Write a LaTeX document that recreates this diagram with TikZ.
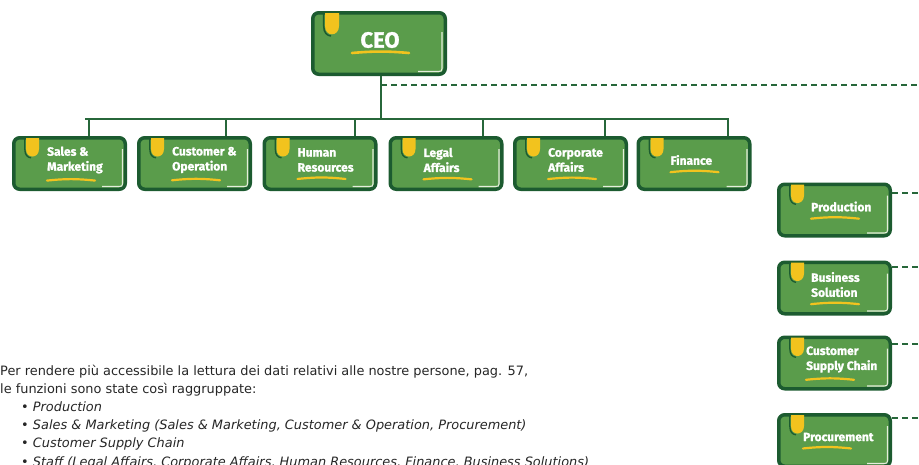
\documentclass[tikz,border=0pt]{standalone}
\usepackage{fontspec}
\setmainfont{DejaVu Sans}
\newfontfamily\labelfont{Fira Sans}[BoldFeatures={FakeBold=1.2}]
\usetikzlibrary{calc}

\definecolor{boxfill}{HTML}{5A9C4B}
\definecolor{boxline}{HTML}{1C5B30}
\definecolor{linkline}{HTML}{27673A}
\definecolor{drip}{HTML}{F2C31E}
\definecolor{shinecol}{HTML}{E4EEDC}
\definecolor{notetext}{HTML}{262626}

% one green unit: name, x, y, label offset, label
\newcommand\unitbox[5]{%
  \node[unit] (#1) at (#2,#3) {};
  \begin{scope}[shift={(#1.north west)}]
    \fill[drip] (14,2) -- (14,13) .. controls (14,23) and (27,23) .. (27,13) -- (27,2) -- cycle;
    \draw[boxline, line width=1.3pt] (12.8,1) -- (12.8,13) .. controls (12.8,19) and (15.5,21.5) .. (19,21.8);
  \end{scope}
  \begin{scope}[shift={(#1.south east)}]
    \draw[shine] (-4.5,-42) -- (-4.5,-7) .. controls (-4.5,-5) and (-5.5,-4.5) .. (-8,-4.5) -- (-25,-4.5);
  \end{scope}
  \node[unitlabel, anchor=west] (#1_txt) at ($(#1.west)+(#4,-3.5)$) {#5};
  \draw[ulstroke] ($(#1_txt.south west)+(0,7)$) to[bend left=6] ++(48,0);
}

\begin{document}
\begin{tikzpicture}[x=1pt,y=-1pt]
    \tikzstyle{unit}=[draw=boxline, fill=boxfill, line width=3.5pt, rounded corners=6pt,
      minimum width=111.5pt, minimum height=51.5pt, inner sep=0pt]
    \tikzstyle{unitlabel}=[text=white, align=left, inner sep=0pt,
      font=\labelfont\bfseries\fontsize{12}{15}\selectfont]
    \tikzstyle{ulstroke}=[drip, line width=2.2pt, line cap=round]
    \tikzstyle{shine}=[shinecol, line width=1.1pt]
    \tikzstyle{link}=[linkline, line width=2.4pt]
    \tikzstyle{linkdash}=[linkline, line width=2.6pt, dash pattern=on 6pt off 4pt]
    \tikzstyle{notes}=[text=notetext, align=left, inner sep=0pt,
      font=\fontsize{12.9}{18.2}\selectfont]
    \useasboundingbox (0,0) rectangle (919,464);

    % top
    \node[unit, minimum width=132.5pt, minimum height=61.5pt] (ceo) at (379,43.5) {};
    \begin{scope}[shift={(ceo.north west)}]
      \fill[drip] (14,2) -- (14,15) .. controls (14,26) and (28,26) .. (28,15) -- (28,2) -- cycle;
      \draw[boxline, line width=1.5pt] (12.7,1) -- (12.7,15) .. controls (12.7,22) and (16,24.5) .. (20,25);
    \end{scope}
    \begin{scope}[shift={(ceo.south east)}]
      \draw[shine] (-5,-44) -- (-5,-7.5) .. controls (-5,-5) and (-6,-4.5) .. (-8.5,-4.5) -- (-29,-4.5);
    \end{scope}
    \node[text=white, inner sep=0pt, font=\labelfont\bfseries\fontsize{22}{26}\selectfont] (ceo_txt) at (380,40) {CEO};
    \draw[ulstroke, line width=2.6pt] (352,53) to[bend left=5] (409,53);

    % main line and bus
    \coordinate (bus_l) at (85,119);
    \coordinate (bus_r) at (729,119);
    \coordinate (dash_l) at (381,85);
    \coordinate (dash_r) at (919,85);
    \draw[link] (ceo.south -| dash_l) -- (dash_l |- bus_l);
    \draw[link] (bus_l) -- (bus_r);
    \draw[linkdash] (dash_l) -- (dash_r);

    % first row
    \unitbox{sales}{69.5}{163.5}{35}{Sales \&\\Marketing}
    \unitbox{custop}{194.5}{163.5}{35}{Customer \&\\Operation}
    \unitbox{hr}{320}{163.5}{35}{Human\\Resources}
    \unitbox{legal}{446}{163.5}{35}{Legal\\Affairs}
    \unitbox{corp}{570.5}{163.5}{35}{Corporate\\Affairs}
    \unitbox{finance}{694}{163.5}{34}{Finance}

    \coordinate (drop_1) at (89,119);
    \coordinate (drop_2) at (226,119);
    \coordinate (drop_3) at (355,119);
    \coordinate (drop_4) at (483,119);
    \coordinate (drop_5) at (605,119);
    \coordinate (drop_6) at (728,119);
    \draw[link] (drop_1) -- (drop_1 |- sales.north);
    \draw[link] (drop_2) -- (drop_2 |- custop.north);
    \draw[link] (drop_3) -- (drop_3 |- hr.north);
    \draw[link] (drop_4) -- (drop_4 |- legal.north);
    \draw[link] (drop_5) -- (drop_5 |- corp.north);
    \draw[link] (drop_6) -- (drop_6 |- finance.north);

    % right column
    \unitbox{prod}{834.5}{210}{34}{Production}
    \unitbox{bizsol}{834.5}{288}{34}{Business\\Solution}
    \unitbox{csc}{834.5}{363}{29}{Customer\\Supply Chain}
    \unitbox{proc}{834.5}{440.5}{26}{Procurement}

    \coordinate (prod_end) at (919,193);
    \coordinate (bizsol_end) at (919,267);
    \coordinate (csc_end) at (919,344);
    \coordinate (proc_end) at (919,418);
    \draw[linkdash] (prod.east |- prod_end) -- (prod_end);
    \draw[linkdash] (bizsol.east |- bizsol_end) -- (bizsol_end);
    \draw[linkdash] (csc.east |- csc_end) -- (csc_end);
    \draw[linkdash] (proc.east |- proc_end) -- (proc_end);

    % note
    \node[notes, anchor=base west] (note) at (0,466) {%
      Per rendere più accessibile la lettura dei dati relativi alle nostre persone, pag. 57,\\
      le funzioni sono state così raggruppate:\\
      \hspace*{21pt}• \textit{Production}\\
      \hspace*{21pt}• \textit{Sales \& Marketing (Sales \& Marketing, Customer \& Operation, Procurement)}\\
      \hspace*{21pt}• \textit{Customer Supply Chain}\\
      \hspace*{21pt}• \textit{Staff (Legal Affairs, Corporate Affairs, Human Resources, Finance, Business Solutions)}};
\end{tikzpicture}
\end{document}
